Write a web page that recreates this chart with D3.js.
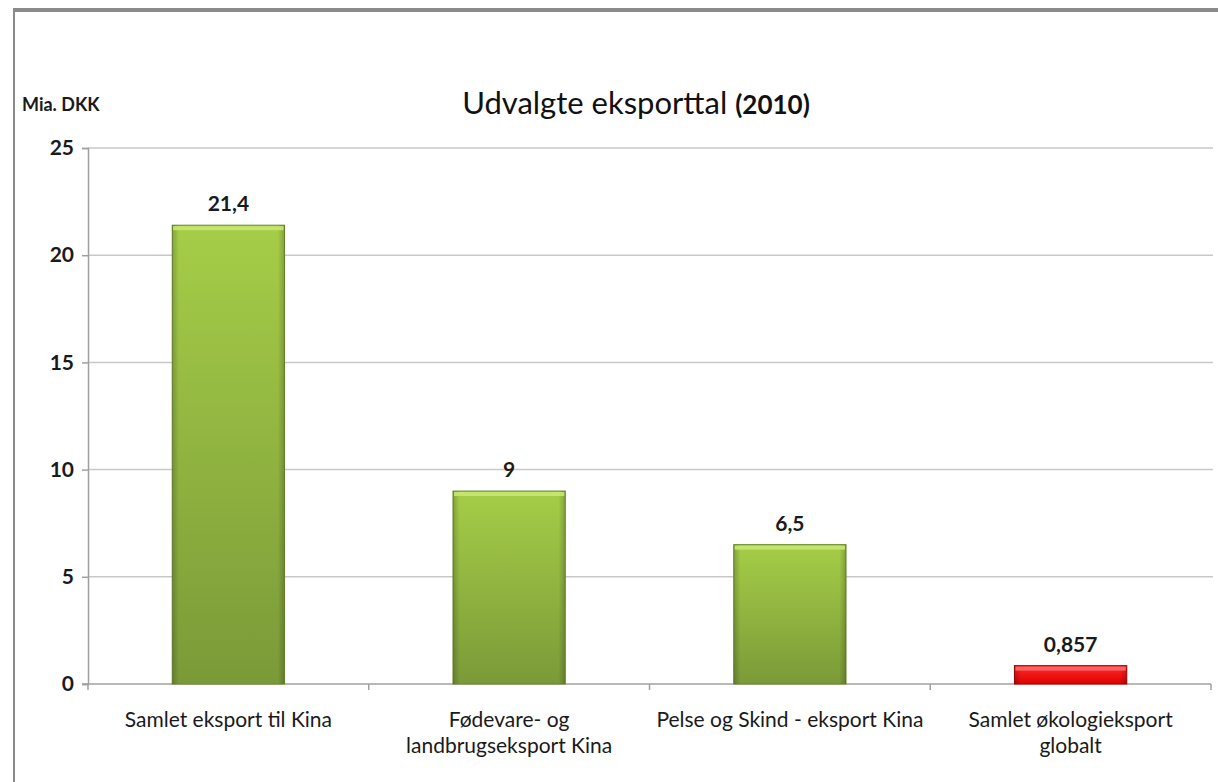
<!DOCTYPE html>
<html>
<head>
<meta charset="utf-8">
<script src="https://cdn.jsdelivr.net/npm/d3@7"></script>
<style>
  html, body { margin: 0; padding: 0; background: #fff; }
  svg { display: block; font-family: Lato, "Open Sans", sans-serif; }
</style>
</head>
<body>
<div id="chart"></div>
<script>
// values
const categories = [
  ['Samlet eksport til Kina'],
  ['Fødevare- og', 'landbrugseksport Kina'],
  ['Pelse og Skind - eksport Kina'],
  ['Samlet økologieksport', 'globalt']
];
const values = [21.4, 9, 6.5, 0.857];
const labels = ['21,4', '9', '6,5', '0,857'];
const highlight = [false, false, false, true];
const yTicks = [0, 5, 10, 15, 20, 25];

(function () {
  const W = 1218, H = 782;
  const m = { left: 88, right: 1211, top: 148, bottom: 684 };

  const svg = d3.select('#chart').append('svg').attr('width', W).attr('height', H);
  const defs = svg.append('defs');

  // green bar gradient: lighter top, darker bottom
  const g = defs.append('linearGradient').attr('id', 'gGreen').attr('x1', 0).attr('y1', 0).attr('x2', 0).attr('y2', 1);
  g.append('stop').attr('offset', '0%').attr('stop-color', '#a6cd48');
  g.append('stop').attr('offset', '100%').attr('stop-color', '#7a9a38');
  const r = defs.append('linearGradient').attr('id', 'gRed').attr('x1', 0).attr('y1', 0).attr('x2', 0).attr('y2', 1);
  r.append('stop').attr('offset', '0%').attr('stop-color', '#ff2a2a');
  r.append('stop').attr('offset', '100%').attr('stop-color', '#e00000');
  // side shading
  const s = defs.append('linearGradient').attr('id', 'gSide').attr('x1', 0).attr('y1', 0).attr('x2', 1).attr('y2', 0);
  s.append('stop').attr('offset', '0%').attr('stop-color', '#000').attr('stop-opacity', 0.2);
  s.append('stop').attr('offset', '6%').attr('stop-color', '#000').attr('stop-opacity', 0);
  s.append('stop').attr('offset', '94%').attr('stop-color', '#000').attr('stop-opacity', 0);
  s.append('stop').attr('offset', '100%').attr('stop-color', '#000').attr('stop-opacity', 0.2);

  // outer frame
  svg.append('line').attr('x1', 13).attr('x2', W).attr('y1', 10).attr('y2', 10)
    .attr('stroke', '#8a8a8a').attr('stroke-width', 4);
  svg.append('line').attr('x1', 14).attr('x2', 14).attr('y1', 8).attr('y2', H)
    .attr('stroke', '#8a8a8a').attr('stroke-width', 2);

  const x = d3.scaleBand().domain(d3.range(values.length)).range([m.left, m.right]).paddingInner(0.6).paddingOuter(0.3);
  const y = d3.scaleLinear().domain([0, 25]).range([m.bottom, m.top]);

  // gridlines
  svg.append('g').selectAll('line').data(yTicks.filter(d => d > 0)).join('line')
    .attr('x1', m.left).attr('x2', m.right + 2)
    .attr('y1', d => y(d)).attr('y2', d => y(d))
    .attr('stroke', '#c8c8c8').attr('stroke-width', 1.5);

  // y axis
  const yAxis = svg.append('g').attr('transform', `translate(${m.left},0)`)
    .call(d3.axisLeft(y).tickValues(yTicks).tickSize(6).tickPadding(8));
  yAxis.select('.domain').attr('stroke', '#a0a0a0').attr('stroke-width', 1.5);
  yAxis.selectAll('.tick line').attr('stroke', '#a0a0a0').attr('stroke-width', 1.5);
  yAxis.selectAll('.tick text').attr('fill', '#1a1a1a').style('font-size', '21px').style('font-weight', 'bold')
    .style('font-family', 'Lato, sans-serif');

  // x axis baseline and category ticks
  const bounds = d3.range(values.length + 1).map(i => m.left + i * (m.right - m.left) / values.length);
  svg.append('line').attr('x1', m.left - 6).attr('x2', m.right).attr('y1', y(0)).attr('y2', y(0))
    .attr('stroke', '#a0a0a0').attr('stroke-width', 1.5);
  svg.append('g').selectAll('line').data(bounds).join('line')
    .attr('x1', d => d).attr('x2', d => d).attr('y1', y(0)).attr('y2', y(0) + 6)
    .attr('stroke', '#a0a0a0').attr('stroke-width', 1.5);

  // bars
  const bars = svg.append('g').selectAll('g').data(values).join('g');
  bars.append('rect')
    .attr('x', (d, i) => x(i)).attr('width', x.bandwidth())
    .attr('y', d => y(d)).attr('height', d => y(0) - y(d))
    .attr('fill', (d, i) => highlight[i] ? 'url(#gRed)' : 'url(#gGreen)')
    .attr('stroke', (d, i) => highlight[i] ? '#b00000' : '#6c8a30').attr('stroke-width', 1);
  bars.append('rect')
    .attr('x', (d, i) => x(i)).attr('width', x.bandwidth())
    .attr('y', d => y(d)).attr('height', d => y(0) - y(d))
    .attr('fill', 'url(#gSide)');
  // top bevel highlight
  bars.append('rect')
    .attr('x', (d, i) => x(i) + 1).attr('width', x.bandwidth() - 2)
    .attr('y', d => y(d) + 1).attr('height', 4)
    .attr('fill', (d, i) => highlight[i] ? '#ff6a6a' : '#c6e870').attr('opacity', 0.9);

  // value labels
  svg.append('g').selectAll('text').data(values).join('text')
    .attr('x', (d, i) => x(i) + x.bandwidth() / 2)
    .attr('y', d => y(d) - 14)
    .attr('text-anchor', 'middle')
    .style('font-size', '21px').style('font-weight', 'bold').attr('fill', '#1a1a1a')
    .text((d, i) => labels[i]);

  // category labels
  const cat = svg.append('g').selectAll('text').data(categories).join('text')
    .attr('x', (d, i) => x(i) + x.bandwidth() / 2)
    .attr('y', 727)
    .attr('text-anchor', 'middle')
    .style('font-size', '21px').attr('fill', '#1a1a1a');
  cat.selectAll('tspan').data(d => d).join('tspan')
    .attr('x', function () { return d3.select(this.parentNode).attr('x'); })
    .attr('dy', (d, j) => j === 0 ? 0 : 26)
    .text(d => d);

  // title and unit
  const title = svg.append('text').attr('x', 636).attr('y', 114).attr('text-anchor', 'middle')
    .attr('fill', '#111');
  title.append('tspan').style('font-size', '31px').text('Udvalgte eksporttal ');
  title.append('tspan').style('font-size', '26px').style('font-weight', 'bold').text('(2010)');

  svg.append('text').attr('x', 22).attr('y', 111)
    .style('font-size', '18px').style('font-weight', 'bold').attr('fill', '#1a1a1a').text('Mia. DKK');
})();
</script>
</body>
</html>
